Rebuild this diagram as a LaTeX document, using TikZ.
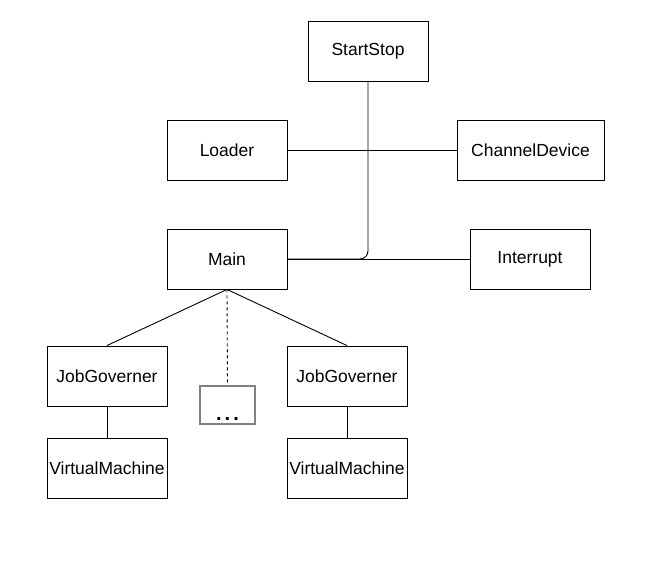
\documentclass[tikz,border=0pt]{standalone}
\usepackage{fontspec}
\setmainfont{Liberation Sans}
\begin{document}
\begin{tikzpicture}[x=1pt,y=-1pt,
  box/.style={draw, line width=0.9pt, minimum width=120pt, minimum height=60pt, inner sep=0pt, font=\fontsize{17.5}{19}\selectfont},
  conn/.style={line width=0.9pt}]
\useasboundingbox (0,0) rectangle (659,564);
\node[box] (ss) at (368,51) {StartStop};
\node[box] (ld) at (227,150) {Loader};
\node[box, minimum width=147pt] (cd) at (530.5,150) {ChannelDevice};
\node[box] (mn) at (227,259) {Main};
\node[box] (ir) at (530,259) {Interrupt};
\node[box] (jg1) at (107,376) {JobGoverner};
\node[box] (vm1) at (107,468) {VirtualMachine};
\node[box] (jg2) at (347,376) {JobGoverner};
\node[box] (vm2) at (347,468) {VirtualMachine};
\node[draw=gray, line width=1.8pt, minimum width=55pt, minimum height=38pt, inner sep=0pt] (dots) at (227.5,405) {};
\node[inner sep=0pt, font=\fontsize{20}{20}\selectfont\bfseries, anchor=base] (dt) at (227.5,420) {.\hspace{3pt}.\hspace{3pt}.};
\draw[conn] (ld) -- (cd);
\draw[conn] (mn) -- (ir);
\draw[conn, rounded corners=8pt] (ss.south) |- (mn.east);
\draw[conn] (mn.south) -- (jg1.north);
\draw[conn] (mn.south) -- (jg2.north);
\draw[conn, dashed] (mn.south) -- (dots.north);
\draw[conn] (jg1) -- (vm1);
\draw[conn] (jg2) -- (vm2);
\end{tikzpicture}
\end{document}
